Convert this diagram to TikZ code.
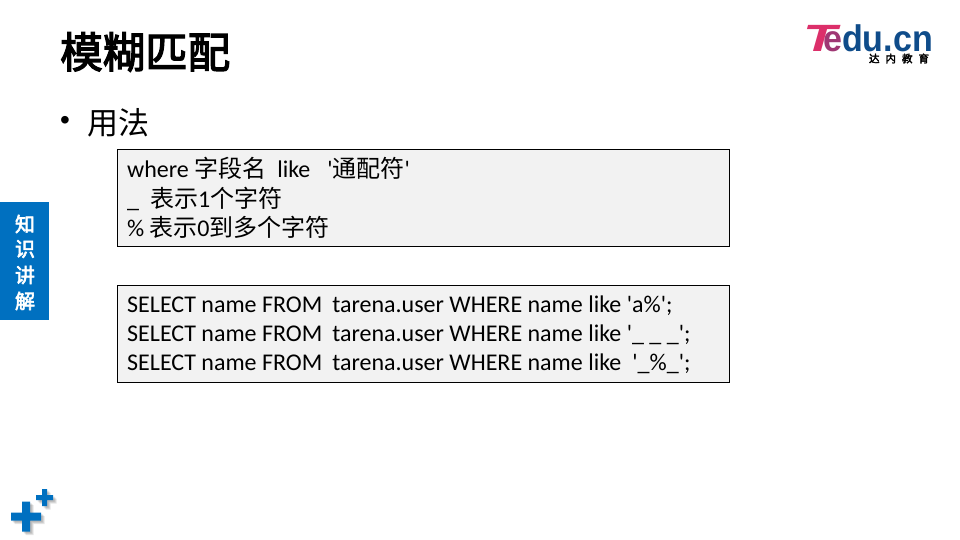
\documentclass[tikz,border=0pt]{standalone}
\usepackage{fontspec}
\setmainfont{Carlito}
\newfontfamily\cjk{Noto Sans CJK SC}
\newfontfamily\cjkb[FakeBold=3]{Noto Sans CJK SC}
\newfontfamily\logofont{Liberation Sans}
\definecolor{tblue}{HTML}{0070C0}
\definecolor{boxgray}{HTML}{F2F2F2}
\definecolor{logoblue}{HTML}{0F4C8A}
\definecolor{logopink}{HTML}{DC2F6A}
\newcommand{\qq}{\textquotesingle}
\newcommand{\plusshape}[5]{% cx cy halfwidth halfbar style
  \fill[#5] (#1-#3,#2-#4) -- (#1-#4,#2-#4) -- (#1-#4,#2-#3) -- (#1+#4,#2-#3) -- (#1+#4,#2-#4) -- (#1+#3,#2-#4)
    -- (#1+#3,#2+#4) -- (#1+#4,#2+#4) -- (#1+#4,#2+#3) -- (#1-#4,#2+#3) -- (#1-#4,#2+#4) -- (#1-#3,#2+#4) -- cycle;}
\tikzset{
  codebox/.style={draw=black,line width=0.9pt,fill=boxgray,minimum width=612pt,minimum height=97pt,anchor=north west,inner sep=0pt,outer sep=0pt},
  sidech/.style={text=white,font=\cjkb\fontsize{20}{20}\selectfont,inner sep=0pt},
  shadowa/.style={fill=black,opacity=0.10},
}
\begin{document}
\begin{tikzpicture}[x=1pt,y=-1pt]
\useasboundingbox (0,0) rectangle (960,540);
\fill[white] (0,0) rectangle (960,540);
% title
\node[anchor=west,inner sep=0pt,font=\cjkb\fontsize{42.5}{42.5}\selectfont] (title) at (60,52) {模糊匹配};
% bullet
\node[anchor=center,inner sep=0pt,font=\logofont\fontsize{28}{28}\selectfont] (bullet) at (65,123) {•};
\node[anchor=west,inner sep=0pt,font=\cjk\fontsize{31}{31}\selectfont] (usage) at (87,123) {用法};
% boxes
\node[codebox] (box1) at (117.5,149.5) {};
\node[codebox] (box2) at (117.5,285.5) {};
% box texts
\begin{scope}[every node/.style={anchor=base west,inner sep=0pt,font=\fontsize{24}{24}\selectfont}]
\node (l1) at (127,178) {where {\cjk 字段名}\hspace{11pt}like\hspace{17pt}\qq{\cjk 通配符}\qq};
\node (l2) at (127,207) {\_\hspace{11pt}{\cjk 表示}1{\cjk 个字符}};
\node (l3) at (127,236) {\%\hspace{5pt}{\cjk 表示}0{\cjk 到多个字符}};
\node (s1) at (127,312) {SELECT name FROM\hspace{10pt}tarena.user WHERE name like \qq a\%\qq;};
\node (s2) at (127,341) {SELECT name FROM\hspace{10pt}tarena.user WHERE name like \qq\_ \_ \_\qq;};
\node (s3) at (127,370) {SELECT name FROM\hspace{10pt}tarena.user WHERE name like\hspace{11pt}\qq\_\%\_\qq;};
\end{scope}
% side tab
\fill[tblue] (0,202) rectangle (49,320);
\node[sidech] (k1) at (25,224) {知};
\node[sidech] (k2) at (25,249) {识};
\node[sidech] (k3) at (25,275) {讲};
\node[sidech] (k4) at (25,301) {解};
% plus marks
\foreach \d in {1.5,2.5,3.5}{
  \plusshape{26+\d}{516.5+\d}{15}{4}{shadowa}
  \plusshape{44.5+\d}{497.5+\d}{8.5}{2.5}{shadowa}
}
\plusshape{26}{516.5}{15}{4}{fill=tblue}
\plusshape{44.5}{497.5}{8.5}{2.5}{fill=tblue}
% logo
\node[anchor=base west,inner sep=0pt,text depth=0pt,text height=0pt,text=logoblue,xscale=0.92,font=\logofont\bfseries\fontsize{37}{37}\selectfont] (logoE) at (823,52) {\textcolor{logopink!70!logoblue}{e}du.cn};
\node[anchor=base west,inner sep=0pt,text depth=0pt,text=logopink,xscale=1.45,font=\logofont\bfseries\itshape\fontsize{38}{38}\selectfont] (logoT) at (803,52) {T};
\node[anchor=center,inner sep=0pt,font=\cjkb\fontsize{10.5}{10.5}\selectfont] (logoC) at (899,58.5) {达\hspace{6pt}内\hspace{6pt}教\hspace{6pt}育};
\end{tikzpicture}
\end{document}
